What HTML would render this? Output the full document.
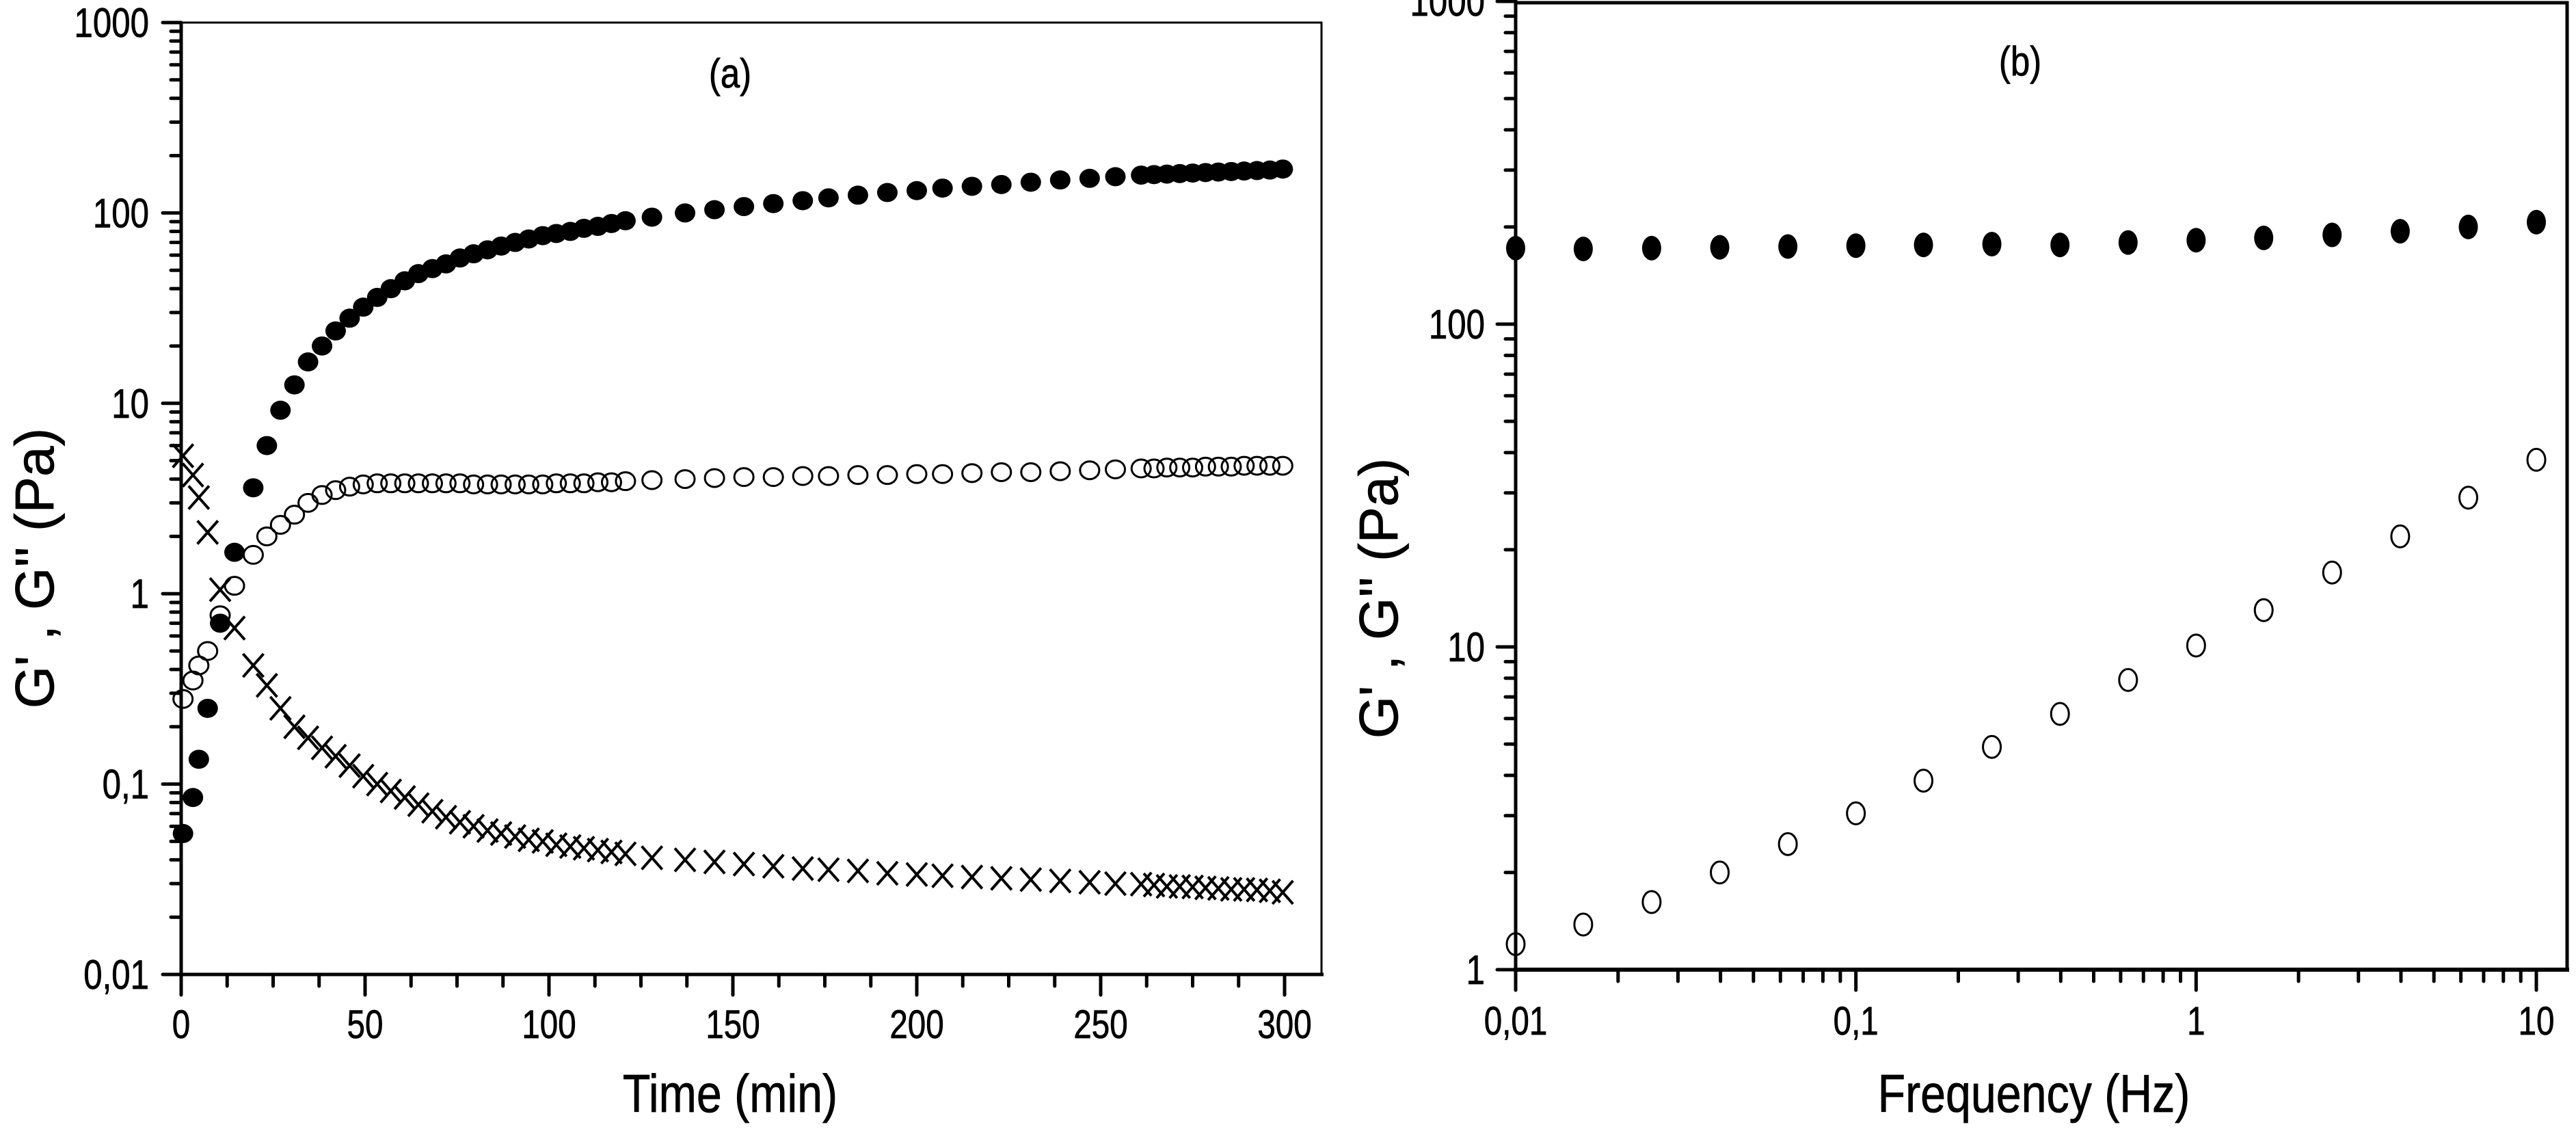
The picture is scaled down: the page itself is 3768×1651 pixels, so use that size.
<!DOCTYPE html>
<html><head><meta charset="utf-8"><style>
html,body{margin:0;padding:0;background:#fff;}
svg{display:block;}
text{font-family:"Liberation Sans",sans-serif;fill:#000;stroke:#000;stroke-width:0.8;}
</style></head><body>
<svg id="chart" width="3768" height="1651" viewBox="0 0 3768 1651" xmlns="http://www.w3.org/2000/svg">
<rect x="0" y="0" width="3768" height="1651" fill="#fff"/>
<g id="pa"></g>
<g id="pb"></g>
</svg>
<script>
// Panel (a) data
const timeA = [0.5,3.2,4.8,7.2,10.6,14.5,19.6,23.3,27,30.8,34.5,38.3,42,45.8,49.5,53.3,57,60.8,64.5,68.3,72,75.8,79.5,83.3,87,90.8,94.5,98.3,102,105.8,109.5,113.3,117,120.8,128,137,145,153,161,169,176,184,192,200,207,215,223,231,239,247,254,261,264.5,268,271.5,275,278.5,282,285.5,289,292.5,296,299.5];
const gPrimeA = [0.055,0.085,0.135,0.25,0.7,1.65,3.6,6,9.2,12.5,16.5,20,24,28,32,36,40,44,48,51,54,58,61,64,67,70,73,76,78,80,83,85,88,91,95,100,104,108,112,116,120,124,128,131,135,138,141,145,149,152,155,158,159,160,161,162,163,164,165,166,167,168,170];
const gDoubleA = [0.28,0.35,0.42,0.5,0.77,1.1,1.6,2.0,2.3,2.6,3.0,3.3,3.5,3.65,3.75,3.8,3.8,3.8,3.8,3.8,3.8,3.8,3.75,3.75,3.75,3.75,3.75,3.75,3.8,3.8,3.8,3.85,3.85,3.9,3.95,4.0,4.05,4.1,4.1,4.15,4.15,4.2,4.2,4.25,4.25,4.3,4.35,4.35,4.4,4.45,4.5,4.55,4.55,4.6,4.6,4.6,4.65,4.65,4.65,4.7,4.7,4.7,4.7];
const tanDeltaA = [5.3,4.2,3.2,2.1,1.05,0.66,0.42,0.33,0.25,0.2,0.175,0.155,0.14,0.125,0.11,0.1,0.092,0.085,0.078,0.072,0.067,0.063,0.06,0.057,0.055,0.053,0.051,0.05,0.048,0.047,0.046,0.045,0.044,0.043,0.041,0.04,0.039,0.038,0.037,0.036,0.0355,0.035,0.034,0.0335,0.033,0.0325,0.032,0.0315,0.031,0.0305,0.03,0.0298,0.0295,0.029,0.029,0.0288,0.0285,0.0283,0.028,0.028,0.0278,0.0275,0.027];
const xTicksA = [0,50,100,150,200,250,300];
const xTickLabelsA = ["0","50","100","150","200","250","300"];
const yTicksA = [0.01,0.1,1,10,100,1000];
const yTickLabelsA = ["0,01","0,1","1","10","100","1000"];
// Panel (b) data
const freqB = [0.01,0.0158,0.0251,0.0398,0.0631,0.1,0.158,0.251,0.398,0.631,1,1.58,2.51,3.98,6.31,10];
const gPrimeB = [172,171,172,173,174,175,176,177,176,179,182,185,189,194,200,207];
const gDoubleB = [1.2,1.38,1.62,2.0,2.45,3.05,3.85,4.9,6.2,7.9,10.1,13,17,22,29,38];
const xTicksB = [0.01,0.1,1,10];
const xTickLabelsB = ["0,01","0,1","1","10"];
const yTicksB = [1,10,100,1000];
const yTickLabelsB = ["1","10","100","1000"];

const NS="http://www.w3.org/2000/svg";
function mk(tag,attrs,parent){const e=document.createElementNS(NS,tag);for(const k in attrs)e.setAttribute(k,attrs[k]);parent.appendChild(e);return e;}
function txt(parent,x,y,s,size,anchor,sx){const t=mk('text',{x:0,y:0,'font-size':size,'text-anchor':anchor,transform:`translate(${x},${y}) scale(${sx},1)`},parent);t.textContent=s;return t;}

const A={x0:265,x1:1933,yTop:33,yBot:1425,tMin:0,tMax:300,tPx:1879};
const xA=v=>A.x0+(v-A.tMin)/(A.tMax-A.tMin)*(A.tPx-A.x0);
const yA=v=>A.yBot-(Math.log10(v)+2)/5*(A.yBot-A.yTop);
const B={x0:2217,x1:3755,yTop:2,yBot:1418,fPx:3710};
const xB=v=>B.x0+(Math.log10(v)+2)/3*(B.fPx-B.x0);
const yB=v=>B.yBot-Math.log10(v)/3*(B.yBot-B.yTop);

// ---------- Panel A ----------
const pa=document.getElementById('pa');
let el;
el=mk('path',{d:`M${A.x0},${A.yTop} H${A.x1} V${A.yBot}`,fill:'none',stroke:'#000','stroke-width':3},pa);


el=mk('line',{x1:A.x0,y1:A.yTop,x2:A.x0,y2:A.yBot+2,stroke:'#000','stroke-width':5},pa);


el=mk('line',{x1:A.x0-3,y1:A.yBot,x2:A.x1+3,y2:A.yBot,stroke:'#000','stroke-width':5},pa);


for(let d=-2;d<3;d++){for(let m=2;m<10;m++){const y=yA(m*Math.pow(10,d));mk('line',{x1:A.x0-15,y1:y,x2:A.x0,y2:y,stroke:'#000','stroke-width':5,'stroke-linecap':'round'},pa);}}
yTicksA.forEach((v,i)=>{const y=yA(v);mk('line',{x1:A.x0-27,y1:y,x2:A.x0,y2:y,stroke:'#000','stroke-width':5,'stroke-linecap':'round'},pa);
 const t=txt(pa,218,y+21,yTickLabelsA[i],60,'end',0.82);
 
 });
for(let v=0;v<=300;v+=12.5){const x=xA(v);const major=(v%50===0);mk('line',{x1:x,y1:A.yBot,x2:x,y2:A.yBot+(major?30:17),stroke:'#000','stroke-width':5,'stroke-linecap':'round'},pa);}
xTicksA.forEach((v,i)=>{const t=txt(pa,xA(v),1518,xTickLabelsA[i],58,'middle',0.82);
 
 });
el=txt(pa,1068,1626,'Time (min)',78,'middle',0.85);


el=mk('text',{x:0,y:0,'font-size':80,'text-anchor':'middle',transform:'translate(78,831) rotate(-90)'},pa);el.textContent="G' , G'' (Pa)";


el=txt(pa,1068,128,'(a)',60,'middle',0.85);


timeA.forEach((t,i)=>{
 el=mk('ellipse',{cx:xA(t),cy:yA(gPrimeA[i]),rx:15,ry:14,fill:'#000'},pa);
 
 
 el=mk('ellipse',{cx:xA(t),cy:yA(gDoubleA[i]),rx:14,ry:13,fill:'none',stroke:'#000','stroke-width':3},pa);
 
 
 const cx=xA(t),cy=yA(tanDeltaA[i]);
 el=mk('path',{d:`M${cx-15},${cy-17} L${cx+15},${cy+17} M${cx+15},${cy-17} L${cx-15},${cy+17}`,stroke:'#000','stroke-width':4,fill:'none'},pa);
 
 
});

// ---------- Panel B ----------
const pb=document.getElementById('pb');
el=mk('path',{d:`M${B.x0},${B.yTop+2} H${B.x1} V${B.yBot}`,fill:'none',stroke:'#000','stroke-width':5},pb);


el=mk('line',{x1:B.x0,y1:0,x2:B.x0,y2:B.yBot+2,stroke:'#000','stroke-width':5},pb);


el=mk('line',{x1:B.x0-3,y1:B.yBot,x2:B.x1+3,y2:B.yBot,stroke:'#000','stroke-width':6},pb);


for(let d=0;d<3;d++){for(let m=2;m<10;m++){const y=yB(m*Math.pow(10,d));mk('line',{x1:B.x0-15,y1:y,x2:B.x0,y2:y,stroke:'#000','stroke-width':5,'stroke-linecap':'round'},pb);}}
yTicksB.forEach((v,i)=>{const y=yB(v);mk('line',{x1:B.x0-27,y1:y,x2:B.x0,y2:y,stroke:'#000','stroke-width':5,'stroke-linecap':'round'},pb);
 const t=txt(pb,2172,y+21,yTickLabelsB[i],60,'end',0.82);
 
 });
for(let d=-2;d<2;d++){for(let m=2;m<10;m++){const v=m*Math.pow(10,d);const x=xB(v);if(x>B.x1)continue;mk('line',{x1:x,y1:B.yBot,x2:x,y2:B.yBot+17,stroke:'#000','stroke-width':5,'stroke-linecap':'round'},pb);}}
xTicksB.forEach((v,i)=>{const x=xB(v);mk('line',{x1:x,y1:B.yBot,x2:x,y2:B.yBot+30,stroke:'#000','stroke-width':5,'stroke-linecap':'round'},pb);
 const t=txt(pb,x,1513,xTickLabelsB[i],58,'middle',0.82);
 
 });
el=txt(pb,2975,1626,'Frequency (Hz)',78,'middle',0.85);


el=mk('text',{x:0,y:0,'font-size':80,'text-anchor':'middle',transform:'translate(2044,875) rotate(-90)'},pb);el.textContent="G' , G'' (Pa)";


el=txt(pb,2955,110,'(b)',60,'middle',0.85);


freqB.forEach((f,i)=>{
 el=mk('ellipse',{cx:xB(f),cy:yB(gPrimeB[i]),rx:14,ry:18,fill:'#000'},pb);
 
 
 el=mk('ellipse',{cx:xB(f),cy:yB(gDoubleB[i]),rx:13,ry:16,fill:'none',stroke:'#000','stroke-width':3},pb);
 
 
});
</script>
</body></html>
